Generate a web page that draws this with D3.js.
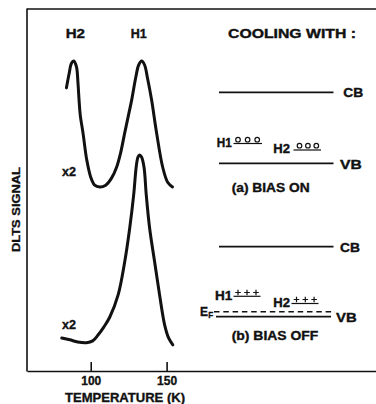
<!DOCTYPE html>
<html>
<head>
<meta charset="utf-8">
<script src="https://cdn.jsdelivr.net/npm/d3@7"></script>
<style>
  body { margin: 0; background: #fff; }
  svg { display: block; }
  text { font-family: "Liberation Sans", Arial, sans-serif; font-weight: bold; fill: #111; stroke: #111; stroke-width: 0.35px; }
</style>
</head>
<body>
<svg id="chart" width="376" height="404"></svg>
<script>
// DLTS spectra (arbitrary units) versus temperature (K)
const biasOnTemp = [84, 85.7, 87.3, 88.8, 90.6, 91.6, 92.3, 93.1, 94.9, 97.4, 100, 102.6, 105.9,
  109.9, 113.8, 117.1, 119.7, 122.4, 125.3, 127, 129.6, 131.6, 133.6, 135.5, 137.5, 140.1,
  143.4, 147.4, 150.7, 153.9];
const biasOnSignal = [78.0, 81.8, 84.8, 85.4, 83.8, 79.3, 74.7, 70.5, 65.6, 58.1, 53.4, 51.2, 50.7,
  51.2, 53.2, 56.2, 60.1, 65.6, 71.3, 74.7, 80.7, 84.3, 85.4, 84.3, 80.5, 74.7,
  65.6, 56.2, 52.0, 50.7];

const biasOffTemp = [80.9, 86.2, 91.4, 97.2, 101.3, 104.8, 108.6, 112.5, 118, 122.4, 125.7, 128.3,
  130.1, 131.2, 132.2, 133.4, 135.1, 136.6, 138.8, 142.1, 145.4, 148.7, 151.3, 154.1];
const biasOffSignal = [9.1, 8.6, 8.0, 7.8, 8.3, 9.9, 12.1, 14.8, 20.9, 30.1, 39.4, 48.5,
  56.7, 59.0, 59.5, 59.0, 56.2, 48.5, 39.4, 30.1, 20.9, 12.7, 9.1, 7.2];

const xTicks = [100, 150];
const peakLabels = ["H2", "H1"];
const gainLabels = ["x2", "x2"];

const svg = d3.select("#chart");
const ink = "#111";

const x = d3.scaleLinear().domain([58, 288]).range([27, 376]);
const y = d3.scaleLinear().domain([0, 100]).range([371, 8]);

// stretched bold text helper (the lettering is a wide, extended face)
function label(txt, lx, base, size, len, g) {
  return (g || svg).append("text")
    .attr("x", lx).attr("y", base)
    .attr("font-size", size)
    .attr("textLength", len)
    .attr("lengthAdjust", "spacingAndGlyphs")
    .text(txt);
}

// frame: left axis and top rule
svg.append("line").attr("x1", 27).attr("x2", 27).attr("y1", 8.5).attr("y2", 371.5)
  .attr("stroke", ink).attr("stroke-width", 1.6);
svg.append("line").attr("x1", 27).attr("x2", 376).attr("y1", 9).attr("y2", 9)
  .attr("stroke", ink).attr("stroke-width", 1.6);

// bottom axis with inward ticks
const xAxis = d3.axisBottom(x).tickValues(xTicks).tickSizeInner(-9).tickSizeOuter(0).tickPadding(5);
const gx = svg.append("g").attr("transform", "translate(0,371)").call(xAxis);
gx.select(".domain").attr("stroke", ink).attr("stroke-width", 1.6);
gx.selectAll(".tick line").attr("stroke", ink).attr("stroke-width", 1.6);
gx.selectAll(".tick text").attr("font-size", 12.5).attr("fill", ink)
  .attr("font-family", "Liberation Sans, Arial, sans-serif").attr("font-weight", "bold")
  .attr("textLength", 20).attr("lengthAdjust", "spacingAndGlyphs");

label("TEMPERATURE (K)", 65, 402, 12.5, 120);
svg.append("text")
  .attr("transform", "translate(19.5,252) rotate(-90)")
  .attr("font-size", 11.5)
  .attr("textLength", 85).attr("lengthAdjust", "spacingAndGlyphs")
  .text("DLTS SIGNAL");

// spectra
const line = d3.line().x(d => x(d[0])).y(d => y(d[1])).curve(d3.curveCatmullRom.alpha(0.5));
svg.append("path").datum(d3.zip(biasOnTemp, biasOnSignal)).attr("d", line)
  .attr("fill", "none").attr("stroke", ink).attr("stroke-width", 3).attr("stroke-linecap", "round");
svg.append("path").datum(d3.zip(biasOffTemp, biasOffSignal)).attr("d", line)
  .attr("fill", "none").attr("stroke", ink).attr("stroke-width", 3).attr("stroke-linecap", "round");

label(peakLabels[0], 65.7, 37.5, 12, 19.3);
label(peakLabels[1], 130.7, 37.5, 12, 16);
label(gainLabels[0], 62, 176, 12, 14);
label(gainLabels[1], 62, 329, 12, 14);

// band diagrams
label("COOLING WITH :", 228, 37.5, 12, 128);

function band(y0, x0, x1, w) {
  svg.append("line").attr("x1", x0).attr("x2", x1).attr("y1", y0).attr("y2", y0)
    .attr("stroke", ink).attr("stroke-width", w);
}
function circles(cx0, cy, step, lineY, lx0, lx1) {
  for (let i = 0; i < 3; i++) {
    svg.append("circle").attr("cx", cx0 + i * step).attr("cy", cy).attr("r", 2.3)
      .attr("fill", "none").attr("stroke", ink).attr("stroke-width", 1.2);
  }
  band(lineY, lx0, lx1, 1.2);
}
function pluses(cx0, cy, step, lineY, lx0, lx1) {
  for (let i = 0; i < 3; i++) {
    const cx = cx0 + i * step;
    svg.append("path").attr("d", `M${cx - 2.8},${cy}H${cx + 2.8}M${cx},${cy - 2.8}V${cy + 2.8}`)
      .attr("stroke", ink).attr("stroke-width", 1.2);
  }
  band(lineY, lx0, lx1, 1.2);
}

// (a) bias on
band(92.3, 219, 333.5, 1.8);
label("CB", 343.3, 96.8, 12, 20);
label("H1", 216.7, 146.8, 12, 15);
circles(238, 139.7, 9.6, 143.5, 233.5, 262);
label("H2", 273.3, 153.3, 12, 16.7);
circles(299.5, 145.7, 8.4, 150, 293.5, 321);
band(163.3, 219, 333.5, 1.8);
label("VB", 340, 168.6, 12, 21.7);
label("(a) BIAS ON", 231.7, 191.7, 12, 78);

// (b) bias off
band(246.7, 219, 333.5, 1.8);
label("CB", 340, 251.7, 12, 20);
label("H1", 215, 299.7, 12, 17.3);
pluses(238, 292.5, 9, 296.3, 233.5, 260.5);
label("H2", 273.3, 306.9, 12, 16.7);
pluses(296.5, 299.5, 8.8, 303.5, 291.5, 318.5);
label("E", 200, 315.7, 12, 8);
label("F", 208.3, 318.3, 8.5, 5);
svg.append("line").attr("x1", 214).attr("x2", 335).attr("y1", 311.7).attr("y2", 311.7)
  .attr("stroke", ink).attr("stroke-width", 1.5).attr("stroke-dasharray", "5.5,3.8");
band(316.7, 216, 331, 1.8);
label("VB", 336, 321.7, 12, 20.7);
label("(b) BIAS OFF", 231.7, 339.5, 12, 86.6);
</script>
</body>
</html>
